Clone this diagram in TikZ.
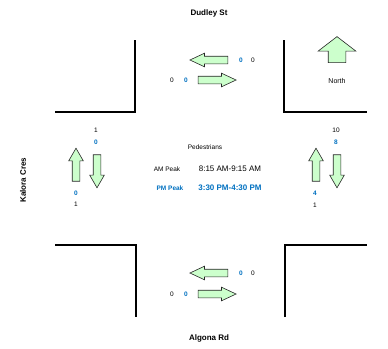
\documentclass[tikz,border=0pt]{standalone}
\usepackage{fontspec}
\setmainfont{Liberation Sans}
\usetikzlibrary{shapes.arrows}
\definecolor{pmblue}{RGB}{0,112,192}
\definecolor{arrowgreen}{RGB}{204,255,204}

\begin{document}
\begin{tikzpicture}[x=1pt,y=-1pt,
    road/.style={line width=1.6pt},
    flow/.style={single arrow, draw=black!85, fill=arrowgreen, line width=0.6pt,
      inner xsep=0pt, inner ysep=3.5pt, single arrow head extend=3pt,
      minimum height=38pt, single arrow tip angle=50},
    vflow/.style={flow, inner xsep=3.5pt, inner ysep=0pt, single arrow head extend=3.5pt,
      minimum height=33pt, single arrow tip angle=60},
    am/.style={font=\fontsize{6.5}{7}\selectfont},
    pm/.style={font=\fontsize{6.5}{7}\selectfont\bfseries, text=pmblue},
    street/.style={font=\fontsize{8}{9}\selectfont\bfseries}]
    \useasboundingbox (0,0) rectangle (388,348);

    % kerb lines
    \draw[road] (55,112) -- (135,112) -- (135,40);
    \draw[road] (284,40) -- (284,112) -- (367,112);
    \draw[road] (55,245) -- (136,245) -- (136,317);
    \draw[road] (285,317) -- (285,245) -- (367,245);

    % street names
    \node[street] (dudley) at (209,13) {Dudley St};
    \node[street] (algona) at (209,338) {Algona Rd};
    \node[street, rotate=90] (kalora) at (23,180) {Kalora Cres};

    % north
    \node[flow, shape border rotate=90, minimum height=26pt, inner xsep=8.5pt, inner ysep=0pt,
      single arrow head extend=10pt, single arrow tip angle=105] (north) at (337,53) {};
    \node[font=\fontsize{7}{8}\selectfont] (northlbl) at (337,81) {North};

    % Dudley St
    \node[flow, shape border rotate=180] (dudleyW) at (213,60) {};
    \node[flow] (dudleyE) at (213,80) {};
    \node[pm] (dudleyWpm) at (241,60) {0};
    \node[am] (dudleyWam) at (253,60) {0};
    \node[am] (dudleyEam) at (172,80) {0};
    \node[pm] (dudleyEpm) at (186,80) {0};

    % Algona Rd
    \node[flow, shape border rotate=180] (algonaW) at (213,273) {};
    \node[flow] (algonaE) at (213,294) {};
    \node[pm] (algonaWpm) at (241,273) {0};
    \node[am] (algonaWam) at (253,273) {0};
    \node[am] (algonaEam) at (172,294) {0};
    \node[pm] (algonaEpm) at (186,294) {0};

    % Kalora Cres
    \node[vflow, shape border rotate=90] (kaloraN) at (76,168) {};
    \node[vflow, shape border rotate=270] (kaloraS) at (97,168) {};
    \node[am] (kaloraSam) at (96,130) {1};
    \node[pm] (kaloraSpm) at (96,142) {0};
    \node[pm] (kaloraNpm) at (76,193) {0};
    \node[am] (kaloraNam) at (76,204) {1};

    % east leg
    \node[vflow, shape border rotate=90] (eastN) at (316,168) {};
    \node[vflow, shape border rotate=270] (eastS) at (337,168) {};
    \node[am] (eastSam) at (336,130) {10};
    \node[pm] (eastSpm) at (336,142) {8};
    \node[pm] (eastNpm) at (315,193) {4};
    \node[am] (eastNam) at (315,205) {1};

    % peak times
    \node[font=\fontsize{6.5}{7}\selectfont] (peds) at (205,147) {Pedestrians};
    \node[font=\fontsize{6.5}{7}\selectfont] (amlbl) at (167,169) {AM Peak};
    \node[font=\fontsize{8}{9}\selectfont] (amtime) at (230,169) {8:15 AM-9:15 AM};
    \node[pm, font=\fontsize{6.5}{7}\selectfont\bfseries] (pmlbl) at (170,188) {PM Peak};
    \node[pm, font=\fontsize{8}{9}\selectfont\bfseries] (pmtime) at (230,188) {3:30 PM-4:30 PM};
  \end{tikzpicture}
\end{document}
